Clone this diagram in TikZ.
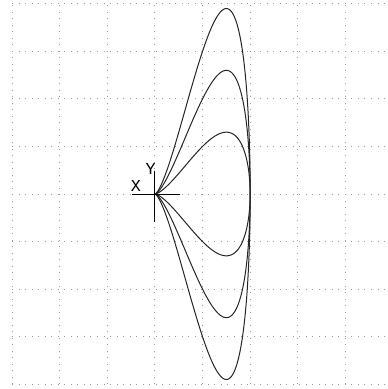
\documentclass[tikz,border=0pt]{standalone}
\usepackage{fontspec}
\setmonofont{Liberation Mono}
\begin{document}
\begin{tikzpicture}[x=1cm,y=1cm,
  gridline/.style={gray!80, line width=0.6pt, dash pattern=on 0.6pt off 3.3pt},
  curve/.style={black!85, line width=0.6pt},
  axis/.style={black, line width=0.6pt},
  lbl/.style={font=\ttfamily\fontsize{10}{10}\selectfont, inner sep=0pt}]
\useasboundingbox (-3.256,-4.097) rectangle (4.895,4.076);
\foreach \x in {-3,...,4} \draw[gridline] (\x,-4) -- (\x,4);
\foreach \y in {-4,...,4} \draw[gridline] (-3,\y) -- (4.895,\y);
\foreach \k in {1,2,3}
  \draw[curve] plot[domain=-90:270, samples=241, smooth, variable=\t]
    ({1+sin(\t)}, {\k*cos(\t)*(1+sin(\t))});
\coordinate (xa) at (-0.49,0);
\coordinate (xb) at (0.525,0);
\coordinate (ya) at (0,0.49);
\coordinate (yb) at (0,-0.58);
\draw[axis] (xa) -- (xb);
\draw[axis] (ya) -- (yb);
\node[lbl] (xl) at (-0.4,0.16) {X};
\node[lbl] (yl) at (-0.09,0.52) {Y};
\end{tikzpicture}
\end{document}
